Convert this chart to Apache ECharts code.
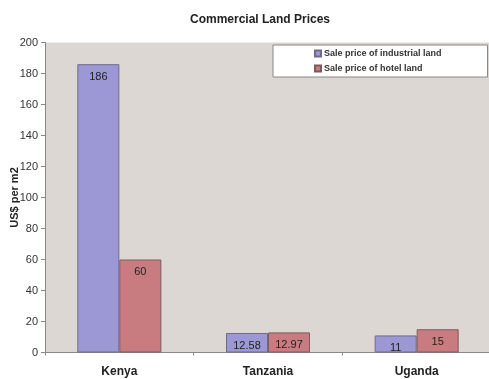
<!DOCTYPE html>
<html>
<head>
<meta charset="utf-8">
<script src="https://cdn.jsdelivr.net/npm/echarts@6/dist/echarts.min.js"></script>
<style>
  html, body { margin: 0; padding: 0; background: #ffffff; }
  #chart { width: 489px; height: 379px; }
</style>
</head>
<body>
<div id="chart"></div>
<script>
// Commercial land prices by country (US$ per m2)
const countries = ['Kenya', 'Tanzania', 'Uganda'];
const industrialLand = [186, 12.58, 11];
const hotelLand = [60, 12.97, 15];
const yTicks = { min: 0, max: 200, interval: 20 };

const font = '"Liberation Sans", Arial, sans-serif';

const chart = echarts.init(document.getElementById('chart'), null, { renderer: 'canvas' });

const barLabel = {
  show: true,
  position: 'insideTop',
  distance: 7,
  color: '#222',
  fontSize: 11,
  fontFamily: font
};

chart.setOption({
  backgroundColor: '#ffffff',
  animation: false,
  title: {
    text: 'Commercial Land Prices',
    left: 255,
    textAlign: 'center',
    top: 9,
    textStyle: { fontSize: 12, fontWeight: 'bold', color: '#222', fontFamily: font }
  },
  legend: {
    orient: 'vertical',
    left: 273,
    top: 45,
    padding: [4, 46, 4, 41],
    itemGap: 6,
    itemWidth: 6,
    itemHeight: 6,
    icon: 'rect',
    backgroundColor: '#ffffff',
    borderColor: '#888888',
    borderWidth: 1,
    textStyle: { fontSize: 9, fontWeight: 'bold', color: '#333', fontFamily: font, padding: [0, 0, 0, -2] },
    data: ['Sale price of industrial land', 'Sale price of hotel land']
  },
  grid: {
    left: 45,
    right: -2,
    top: 42.5,
    bottom: 26.5,
    containLabel: false,
    outerBoundsMode: 'none',
    show: true,
    backgroundColor: '#ddd7d4',
    borderWidth: 0
  },
  xAxis: {
    type: 'category',
    data: countries,
    axisLine: { lineStyle: { color: '#888', width: 1 } },
    axisTick: { show: true, length: 3, lineStyle: { color: '#888' } },
    axisLabel: { fontSize: 12, fontWeight: 'bold', color: '#222', fontFamily: font, margin: 13 }
  },
  yAxis: {
    type: 'value',
    min: yTicks.min,
    max: yTicks.max,
    interval: yTicks.interval,
    name: 'US$ per m2',
    nameLocation: 'middle',
    nameGap: 25,
    nameMoveOverlap: false,
    nameTextStyle: { fontSize: 11, fontWeight: 'bold', color: '#222', fontFamily: font },
    axisLine: { show: true, lineStyle: { color: '#888', width: 1 } },
    axisTick: { show: true, length: 4, lineStyle: { color: '#888' } },
    splitLine: { show: false },
    axisLabel: { fontSize: 11, color: '#333', fontFamily: font, margin: 7 }
  },
  series: [
    {
      name: 'Sale price of industrial land',
      type: 'bar',
      data: industrialLand,
      barWidth: 42,
      barGap: '0%',
      itemStyle: { color: '#9c98d6', borderColor: '#6e6a8a', borderWidth: 1 },
      label: barLabel
    },
    {
      name: 'Sale price of hotel land',
      type: 'bar',
      data: hotelLand,
      barWidth: 42,
      itemStyle: { color: '#c97c80', borderColor: '#7d5a5c', borderWidth: 1 },
      label: barLabel
    }
  ]
});
</script>
</body>
</html>
